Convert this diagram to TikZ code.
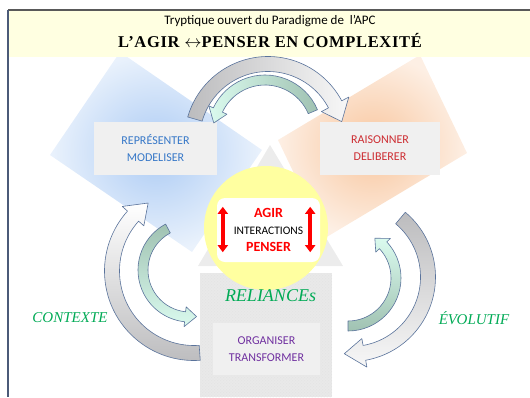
\documentclass[tikz,border=0pt]{standalone}
\usepackage{fontspec}
\setmainfont{Carlito}
\newfontfamily\headfont[LetterSpace=4]{Liberation Serif}
\newfontfamily\reliefont{Liberation Serif}
\usetikzlibrary{arrows.meta,positioning,patterns}

\definecolor{bandyellow}{RGB}{255,255,225}
\definecolor{framecol}{RGB}{75,90,120}
\definecolor{boxgray}{RGB}{240,240,240}
\definecolor{edgeblue}{RGB}{90,115,155}
\definecolor{tailgray}{RGB}{188,188,190}
\definecolor{tailgreen}{RGB}{160,194,178}
\definecolor{mint}{RGB}{218,250,238}
\definecolor{repblue}{RGB}{55,120,200}
\definecolor{raisred}{RGB}{205,45,50}
\definecolor{orgpurple}{RGB}{112,48,160}
\definecolor{relgreen}{RGB}{0,170,85}
\definecolor{circyellow}{RGB}{255,255,160}
\definecolor{trigray}{RGB}{236,236,236}
\definecolor{squaregray}{RGB}{233,233,233}
\definecolor{diablue}{RGB}{172,203,244}
\definecolor{diablueout}{RGB}{234,242,252}
\definecolor{diaorange}{RGB}{248,198,158}
\definecolor{diaorangeout}{RGB}{253,239,228}

% curved block arrow: center, mid radius, half width, tail angle, head angle, tip angle, head overhang, style
\newcommand{\bentarrow}[8]{%
  \draw[blockarr,#8,shift={#1}] ({#4}:{#2+#3}) arc[start angle={#4},end angle={#5},radius={#2+#3}]
    -- ({#5}:{#2+#3+#7}) -- ({#6}:{#2}) -- ({#5}:{#2-#3-#7}) -- ({#5}:{#2-#3})
    arc[start angle={#5},end angle={#4},radius={#2-#3}] -- cycle;}

\begin{document}
\begin{tikzpicture}[x=1pt,y=-1pt,
  blockarr/.style={draw=edgeblue,line width=0.6pt,line join=round},
  txtbox/.style={fill=boxgray,align=center,inner sep=0pt,font=\fontsize{12}{17}\selectfont},
  redarrow/.style={red,line width=4pt,{Triangle[width=10pt,length=7pt]}-{Triangle[width=10pt,length=7pt]}},
  greentxt/.style={text=relgreen,font=\reliefont\itshape\fontsize{15}{18}\selectfont}]
\useasboundingbox (0,0) rectangle (530,397);

% background shapes
\shade[inner color=diablue,outer color=diablueout] (50,155) -- (120,52) -- (262,150) -- (192,252) -- cycle;
\shade[inner color=diaorange,outer color=diaorangeout] (467,153) -- (420,55) -- (278,140) -- (325,238) -- cycle;

% frame and title band
\fill[bandyellow] (9,11) rectangle (530,57);
\draw[gray!70!black,line width=1.2pt] (8,10) -- (530,10);
\draw[framecol,line width=1.5pt] (8,10) -- (8,397);
\node[anchor=base,font=\fontsize{13}{15}\selectfont] (subtitle) at (270,24) {Tryptique ouvert du Paradigme de~ l’APC};
\node[anchor=base,font=\headfont\bfseries\fontsize{16.5}{18}\selectfont] (maintitle) at (270,47) {L’AGIR $\leftrightarrow$PENSER EN COMPLEXITÉ};

\fill[trigray] (270,145) -- (198,266) -- (343,266) -- cycle;
\fill[squaregray] (200,273) rectangle (332,397);
\fill[pattern=crosshatch dots,pattern color=gray!22] (200,273) rectangle (332,397);
\node[circle,fill=circyellow,minimum size=124pt,inner sep=0pt] (core) at (266,228) {};

% centre box
\node[fill=white,rounded corners=8pt,minimum width=103pt,minimum height=64pt] (inter) at (268.5,230) {};
\node[text=red,font=\bfseries\fontsize{14}{16}\selectfont] (agirtxt) at (268.5,213) {AGIR};
\node[font=\fontsize{11.5}{13}\selectfont] (acttxt) at (268.5,231) {INTERACTIONS};
\node[text=red,font=\bfseries\fontsize{14}{16}\selectfont] (pensertxt) at (268.5,247) {PENSER};
\draw[redarrow] ([xshift=6pt,yshift=10pt]inter.south west) -- ([xshift=6pt,yshift=-9pt]inter.north west);
\draw[redarrow] ([xshift=-10pt,yshift=10pt]inter.south east) -- ([xshift=-10pt,yshift=-9pt]inter.north east);

% the three boxes
\node[txtbox,text=repblue,minimum width=123pt,minimum height=53pt] (repbox) at (155.5,148.5) {REPRÉSENTER\\MODELISER};
\node[txtbox,text=raisred,minimum width=120pt,minimum height=53pt] (raisbox) at (380,148.5) {RAISONNER\\DELIBERER};
\node[txtbox,text=orgpurple,minimum width=107pt,minimum height=52pt] (orgbox) at (266.5,349) {ORGANISER\\TRANSFORMER};

% curved arrows
\bentarrow{(265,132)}{52}{5}{337}{205}{190}{5}{left color=mint,right color=tailgreen}
\bentarrow{(268,140)}{76}{7.5}{196}{332}{346}{8}{left color=tailgray,middle color=tailgray!55!white,right color=gray!6}
\bentarrow{(190,270)}{47}{5}{242}{96}{82}{5}{top color=tailgreen,bottom color=mint}
\bentarrow{(194,271)}{82}{7.5}{86}{222}{236}{7}{top color=white,middle color=white,bottom color=tailgray}
\bentarrow{(348,278)}{48}{5}{90}{-43}{-56}{5}{top color=mint,bottom color=tailgreen}
\bentarrow{(351,277)}{77}{7.5}{310}{440}{455}{7}{top color=tailgray,middle color=tailgray!55!white,bottom color=gray!6}

% labels
\node[greentxt,font=\reliefont\itshape\fontsize{18}{20}\selectfont] (reliances) at (270.5,296) {RELIANCEs};
\node[greentxt] (contexte) at (70,318) {CONTEXTE};
\node[greentxt] (evolutif) at (474,318) {ÉVOLUTIF};
\end{tikzpicture}
\end{document}
